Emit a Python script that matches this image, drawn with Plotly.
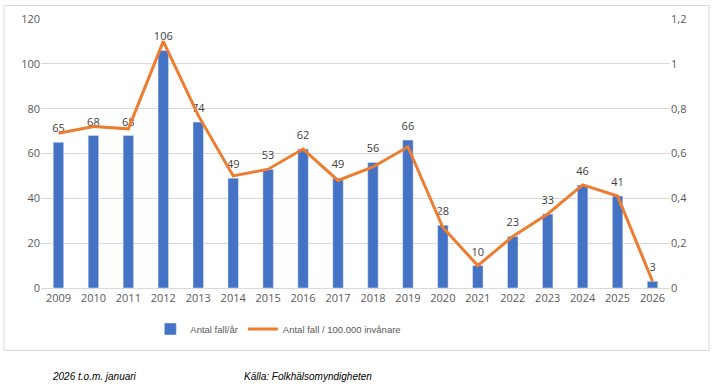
import plotly.graph_objects as go

years = [str(y) for y in range(2009, 2027)]
cases = [65, 68, 68, 106, 74, 49, 53, 62, 49, 56, 66, 28, 10, 23, 33, 46, 41, 3]
per100k = [0.69, 0.72, 0.71, 1.10, 0.77, 0.50, 0.53, 0.62, 0.48, 0.54, 0.63, 0.27, 0.10, 0.23, 0.33, 0.46, 0.41, 0.03]
left_ticks = [0, 20, 40, 60, 80, 100, 120]
right_ticks = [0, 0.2, 0.4, 0.6, 0.8, 1.0, 1.2]
right_ticktext = ["0", "0,2", "0,4", "0,6", "0,8", "1", "1,2"]

FONT = "Open Sans, Noto Sans, sans-serif"
LIB = "Liberation Sans, Arial, sans-serif"
GRAY = "#595959"

fig = go.Figure()
fig.add_trace(go.Bar(
    x=years, y=cases, name="Antal fall/år",
    marker_color="#4472C4", width=0.3,
))
fig.add_trace(go.Scatter(
    x=years, y=cases, mode="markers+text", showlegend=False, hoverinfo="skip",
    marker=dict(size=10, color="rgba(0,0,0,0)"),
    text=[str(v) for v in cases], textposition="top center",
    textfont=dict(size=11, color="#404040", family=FONT),
    cliponaxis=False,
))
fig.add_trace(go.Scatter(
    x=years, y=per100k, name="Antal fall / 100.000 invånare",
    mode="lines", line=dict(color="#ED7D31", width=3),
    yaxis="y2",
))

L, R, T, B = 40.5, 42.5, 19, 101
W, H = 713, 389
pw, ph = W - L - R, H - T - B

def px(x):
    return (x - L) / pw

def py(y):
    return (H - B - y) / ph

fig.update_layout(
    width=W, height=H,
    margin=dict(l=L, r=R, t=T, b=B, pad=0),
    paper_bgcolor="white", plot_bgcolor="white",
    font=dict(family=FONT, size=11, color=GRAY),
    bargap=0.7,
    showlegend=True,
    legend=dict(orientation="h", x=px(150), xanchor="left", y=py(329), yanchor="middle",
                font=dict(size=9.5, color=GRAY, family=LIB), itemwidth=30, traceorder="normal",
                bgcolor="rgba(0,0,0,0)"),
    xaxis=dict(range=[-0.5, len(years) - 0.5], showgrid=False, showline=True,
               linecolor="#d9d9d9", ticks="", tickfont=dict(size=11, color=GRAY)),
    yaxis=dict(range=[0, 120], tickvals=left_ticks, showgrid=True, gridcolor="#d9d9d9",
               zeroline=False, ticks="", tickfont=dict(size=11, color=GRAY)),
    yaxis2=dict(range=[0, 1.2], tickvals=right_ticks, ticktext=right_ticktext,
                overlaying="y", side="right", showgrid=False, zeroline=False, ticks="",
                tickfont=dict(size=11, color=GRAY)),
    shapes=[dict(type="rect", xref="paper", yref="paper",
                 x0=px(3.5), x1=px(709.5), y0=py(5.5), y1=py(350.5),
                 line=dict(color="#d9d9d9", width=1), fillcolor="rgba(0,0,0,0)", layer="below")],
    annotations=[
        dict(text="<i>2026 t.o.m. januari</i>", xref="paper", yref="paper",
             x=px(50), y=py(376), xanchor="left", yanchor="middle", showarrow=False,
             font=dict(family=LIB, size=10, color="black")),
        dict(text="<i>Källa: Folkhälsomyndigheten</i>", xref="paper", yref="paper",
             x=px(242), y=py(376), xanchor="left", yanchor="middle", showarrow=False,
             font=dict(family=LIB, size=10, color="black")),
    ],
)

fig.write_html("out.html", config={"displayModeBar": False},
               post_script="document.body.style.margin='0';document.body.style.padding='0';")
